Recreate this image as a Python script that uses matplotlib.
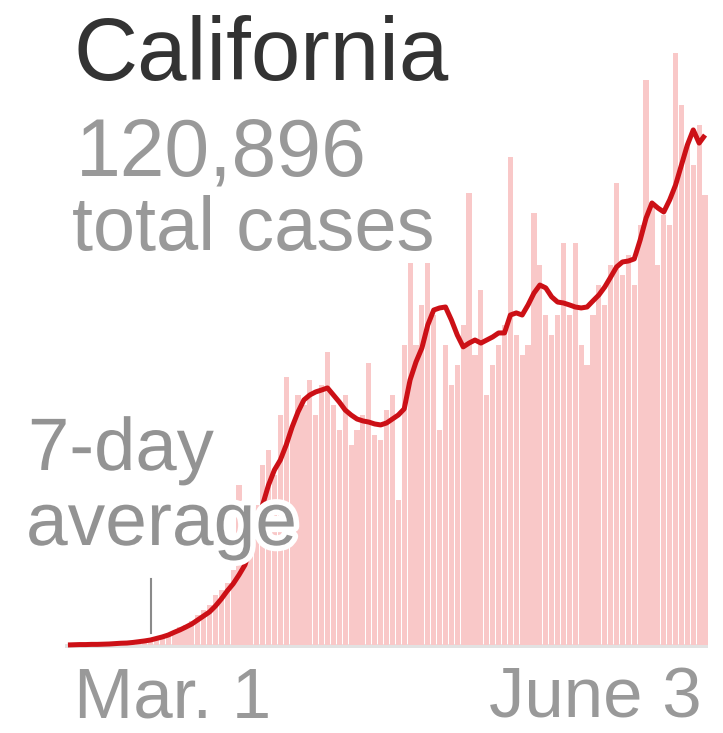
import matplotlib
matplotlib.use("Agg")
import matplotlib.pyplot as plt
import matplotlib.patheffects as pe
import pandas as pd

# daily new cases, Feb 16 - June 3
dates = pd.date_range("2020-02-16", "2020-06-03", freq="D")
daily_cases = [0, 0, 0, 0, 0, 5, 0, 5, 10, 5, 16, 10, 26, 21,
               31, 42, 47, 63, 73, 94, 105, 126, 157, 183, 210, 262, 288, 325, 393,
               838, 498, 681, 734, 943, 1022, 891, 1205, 1404, 1153, 1310, 1258, 1389,
               1205, 1362, 1535, 1258, 1127, 1310, 1048, 1127, 1205, 1478, 1100, 1074,
               1231, 1310, 760, 1572, 2002, 1572, 1782, 2002, 1729, 1127, 1572, 1362,
               1467, 1677, 2368, 1520, 1860, 1310, 1467, 1572, 1677, 2557, 1624, 1520,
               1572, 2264, 1991, 1729, 1624, 1729, 2106, 1729, 2106, 1572, 1467, 1729,
               1886, 1782, 1991, 2421, 1939, 2044, 1886, 2201, 2961, 2306, 1991, 2253,
               2201, 3102, 2830, 2620, 2515, 2725, 2358]
# 7-day average
avg_cases = [0, 1, 2, 2, 3, 3, 4, 5, 7, 9, 10, 13, 17, 21,
             26, 34, 42, 52, 66, 79, 94, 110, 131, 152, 173, 204, 241, 283, 320,
             367, 419, 514, 618, 734, 838, 917, 969, 1048, 1142, 1221, 1284, 1310,
             1326, 1336, 1347, 1310, 1273, 1231, 1205, 1184, 1174, 1168, 1158, 1153,
             1163, 1184, 1205, 1237, 1389, 1483, 1556, 1677, 1755, 1766, 1771, 1703,
             1624, 1562, 1582, 1598, 1582, 1598, 1614, 1635, 1635, 1729, 1740, 1729,
             1782, 1844, 1886, 1871, 1824, 1797, 1792, 1782, 1771, 1766, 1771, 1803,
             1834, 1876, 1928, 1981, 2007, 2012, 2023, 2122, 2237, 2316, 2290, 2269,
             2332, 2410, 2515, 2620, 2699, 2630, 2672]
state = "California"
total_cases = "120,896"
label_dates = [pd.Timestamp("2020-03-01"), pd.Timestamp("2020-06-03")]
label_texts = ["Mar. 1", "June 3"]

W, H = 723, 733
fig = plt.figure(figsize=(W / 100, H / 100), dpi=100)
plt.rcParams["font.family"] = ["Liberation Sans", "DejaVu Sans"]

ax = fig.add_axes([65 / W, 1 - 648 / H, 643 / W, 628 / H])
ax.bar(dates, daily_cases, width=0.88, color="#f9c8c8", zorder=1)
ax.plot(dates, avg_cases, color="#cc1016", lw=3.6, solid_capstyle="butt", zorder=3)
ax.axhline(-8, color="#e2e2e2", lw=3.5, zorder=0)
ax.set_xlim(dates[0] - pd.Timedelta(hours=12), dates[-1] + pd.Timedelta(hours=12))
ax.set_ylim(-16, 3275)
ax.axis("off")

def px(x, y):
    return x / W, 1 - y / H

gray = "#999999"
fig.text(*px(73, 80), state, fontsize=64, color="#333333", va="baseline")
fig.text(*px(76, 175), total_cases, fontsize=58, color=gray, va="baseline")
fig.text(*px(72, 250), "total cases", fontsize=54.5, color=gray, va="baseline")

halo = [pe.withStroke(linewidth=8, foreground="white")]
fig.text(*px(28, 470), "7-day", fontsize=53.5, color="#939393", va="baseline",
         path_effects=halo, zorder=5)
fig.text(*px(26, 545), "average", fontsize=54, color="#939393", va="baseline",
         path_effects=halo, zorder=5)

# pointer from label to the line
ax.plot([label_dates[0], label_dates[0]], [345, 60], color="#8a8a8a", lw=1.5, zorder=4)

fig.text(*px(74, 717), label_texts[0], fontsize=51, color=gray, va="baseline")
fig.text(*px(702, 717), label_texts[1], fontsize=51, color=gray, va="baseline", ha="right")

fig.savefig("out.png", dpi=100, facecolor="white")
